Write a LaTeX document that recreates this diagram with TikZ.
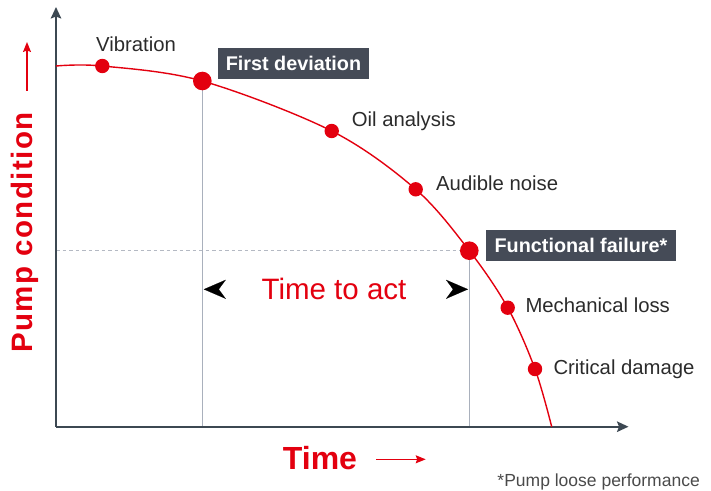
\documentclass[tikz,border=0pt]{standalone}
\usepackage{fontspec}
\setmainfont{Liberation Sans}
\usetikzlibrary{arrows.meta}
\definecolor{brandred}{HTML}{E3000F}
\definecolor{axiscol}{HTML}{3C4852}
\definecolor{tagfill}{HTML}{454B57}
\definecolor{guidecol}{HTML}{A9B0BC}
\definecolor{dashcol}{HTML}{B4B9C3}
\definecolor{labelcol}{HTML}{2B2B2B}
\definecolor{notecol}{HTML}{4A4A4A}
\tikzset{
  dot/.style={circle, fill=brandred, inner sep=0pt, minimum size=14.4pt},
  bigdot/.style={dot, minimum size=18.6pt},
  lbl/.style={anchor=base west, inner sep=0pt, text=labelcol, font=\fontsize{20.3}{24}\selectfont},
  tag/.style={fill=tagfill, text=white, inner sep=0pt, font=\bfseries\fontsize{19.8}{24}\selectfont,
              text height=14pt, text depth=0pt, minimum height=31pt},
  axisline/.style={draw=axiscol, line width=2pt, -{Stealth[length=11.5pt,width=10.5pt,inset=2pt]}},
  guide/.style={draw=guidecol, line width=1.4pt},
  dashguide/.style={draw=dashcol, line width=1.4pt, dash pattern=on 3.5pt off 3pt},
  curveline/.style={draw=brandred, line width=1.4pt},
  redarrow/.style={draw=brandred, line width=1.2pt, -{Stealth[length=10pt,width=8pt,inset=1.5pt]}},
  acthead/.style={draw=white, line width=0.1pt,
    {Stealth[color=black,fill=black,length=22pt,width=19pt,inset=7pt]}-{Stealth[color=black,fill=black,length=22pt,width=19pt,inset=7pt]}},
}
\begin{document}
\begin{tikzpicture}[x=1pt,y=-1pt]
\useasboundingbox (0,0) rectangle (711,490);
% key coordinates
\coordinate (O) at (56,426.7);
\coordinate (ytip) at (56,7);
\coordinate (xtip) at (628.5,426.7);
\coordinate (cstart) at (56,66);
\coordinate (cend) at (551.7,426.7);
\coordinate (p1) at (102.3,66);
\coordinate (p2) at (202.3,81);
\coordinate (p3) at (331.7,131);
\coordinate (p4) at (415.7,189.3);
\coordinate (p5) at (469.3,250.7);
\coordinate (p6) at (507.7,307.7);
\coordinate (p7) at (535,369);
% guides
\draw[dashguide] (p5 -| O) -- (p5);
\draw[guide] (p2) -- (p2 |- O);
\draw[guide] (p5) -- (p5 |- O);
% axes
\draw[axisline] (O) -- (ytip);
\draw[axisline] (O) -- (xtip);
% curve
\draw[curveline] plot[smooth, tension=0.55] coordinates {(cstart) (p1) (p2) (p3) (p4) (p5) (p6) (p7) (cend)};
% dots
\node[dot] (vib) at (p1) {};
\node[bigdot] (fd) at (p2) {};
\node[dot] (oil) at (p3) {};
\node[dot] (aud) at (p4) {};
\node[bigdot] (ff) at (p5) {};
\node[dot] (mech) at (p6) {};
\node[dot] (crit) at (p7) {};
% labels
\node[lbl] (lvib) at (96,51) {Vibration};
\node[tag, minimum width=151pt] (lfd) at (293.5,63.5) {First deviation};
\node[lbl] (loil) at (351.7,126) {Oil analysis};
\node[lbl] (laud) at (436,190.7) {Audible noise};
\node[tag, minimum width=190pt] (lff) at (581,245.5) {Functional failure*};
\node[lbl] (lmech) at (525.3,312.7) {Mechanical loss};
\node[lbl] (lcrit) at (553.3,374) {Critical damage};
% time to act
\coordinate (tl) at (203.8,289.3);
\coordinate (tr) at (468,289.3);
\draw[acthead] (tl) -- (tr);
\node[anchor=base, inner sep=0pt, text=brandred, font=\fontsize{29.5}{33}\selectfont] (act) at (334,299.3) {Time to act};
% axis titles
\node[rotate=90, anchor=base, inner sep=0pt, text=brandred,
      font=\bfseries\fontsize{29.5}{33}\selectfont\addfontfeature{LetterSpace=5}] (pump) at (32.3,232.4) {Pump condition};
\coordinate (ya0) at (27,90.7);
\coordinate (ya1) at (27,42);
\draw[redarrow] (ya0) -- (ya1);
\node[anchor=base west, inner sep=0pt, text=brandred, font=\bfseries\fontsize{32}{36}\selectfont] (time) at (282.7,469.3) {Time};
\coordinate (xa0) at (376,459.3);
\coordinate (xa1) at (425.7,459.3);
\draw[redarrow] (xa0) -- (xa1);
\node[anchor=base east, inner sep=0pt, text=notecol, font=\fontsize{17.5}{20}\selectfont] (note) at (700,486) {*Pump loose performance};
\end{tikzpicture}
\end{document}
